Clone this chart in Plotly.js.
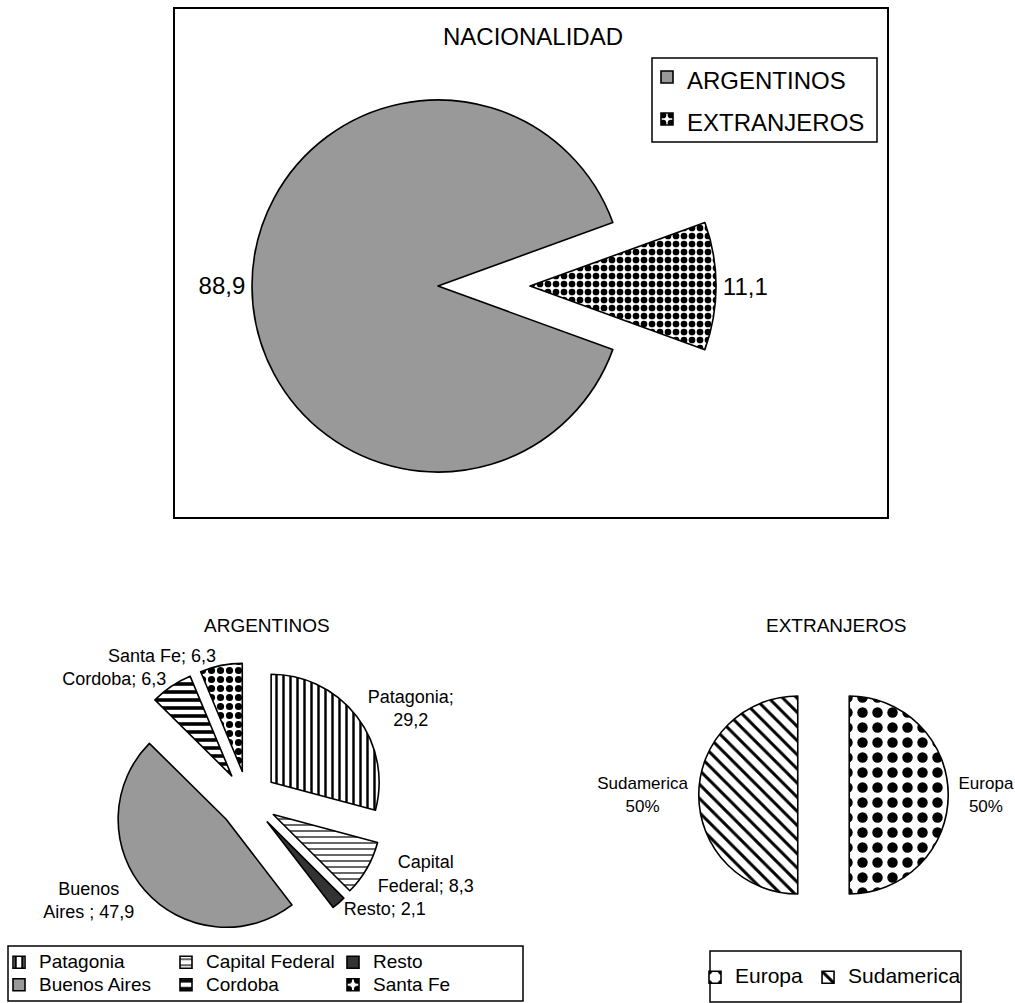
<!DOCTYPE html>
<html>
<head>
<meta charset="utf-8">
<script src="https://cdn.plot.ly/plotly-3.0.1.min.js"></script>
<style>html,body{margin:0;padding:0;background:#fff;}#chart{width:1015px;height:1003px;}</style>
</head>
<body>
<div id="chart"></div>
<script>
// ---------------- data ----------------
const chartTitles = ['NACIONALIDAD', 'ARGENTINOS', 'EXTRANJEROS'];

const natLabels = ['ARGENTINOS', 'EXTRANJEROS'];
const natValues = [88.9, 11.1];

const argLabels = ['Patagonia', 'Capital Federal', 'Resto', 'Buenos Aires', 'Cordoba', 'Santa Fe'];
const argValues = [29.2, 8.3, 2.1, 47.9, 6.3, 6.3];
const argTextPrefix = ['Patagonia;<br>', 'Capital<br>Federal; ', 'Resto; ', 'Buenos<br>Aires ; ', 'Cordoba; ', 'Santa Fe; '];

const extLabels = ['Europa', 'Sudamerica'];
const extValues = [50, 50];

// ---------------- helpers ----------------
const W = 1015, H = 1003;
const X = px => px / W;
const Y = py => 1 - py / H;
function pieDomain(cx, cy, r, pull) {
  const half = r * (1 + pull);
  return { x: [X(cx - half), X(cx + half)], y: [Y(cy + half), Y(cy - half)] };
}
function legendLabels(arr, size) {
  return arr.map(s => '<span style="font-size:' + size + 'px">' + s + '</span>');
}
const FONT = 'Liberation Sans, Arial, sans-serif';
const GRAY = '#999999';

// ---------------- traces ----------------
const natPull = 0.495;
const tNat = {
  type: 'pie',
  labels: legendLabels(natLabels, 24),
  values: natValues,
  sort: false,
  direction: 'clockwise',
  rotation: 110,
  pull: [0, natPull],
  domain: pieDomain(438, 286, 186, natPull),
  marker: {
    colors: [GRAY, '#ffffff'],
    line: { color: '#000', width: 1.6 },
    pattern: {
      shape: ['', '.'],
      size: [8, 8],
      solidity: [0.5, 0.55],
      fgcolor: '#000',
      bgcolor: '#fff',
      fillmode: 'replace'
    }
  },
  textposition: 'outside',
  texttemplate: '%{value:.1f}',
  outsidetextfont: { family: FONT, size: 24, color: '#000' },
  hoverinfo: 'skip',
  legend: 'legend'
};

const argPull = 0.27;
const tArg = {
  type: 'pie',
  labels: legendLabels(argLabels, 19),
  values: argValues,
  text: argTextPrefix,
  sort: false,
  direction: 'clockwise',
  rotation: 0,
  pull: argPull,
  domain: pieDomain(248, 800, 108, argPull),
  marker: {
    colors: ['#ffffff', '#ffffff', '#333333', GRAY, '#ffffff', '#ffffff'],
    line: { color: '#000', width: 1.6 },
    pattern: {
      shape: ['|', '-', '', '', '-', '.'],
      size: [7, 6, 8, 8, 8, 9],
      solidity: [0.35, 0.2, 0.3, 0.3, 0.45, 0.5],
      fgcolor: '#000',
      bgcolor: '#fff',
      fillmode: 'replace'
    }
  },
  textposition: 'outside',
  texttemplate: '%{text}%{value:.1f}',
  outsidetextfont: { family: FONT, size: 18, color: '#000' },
  hoverinfo: 'skip',
  legend: 'legend2'
};

const extPull = 0.26;
const tExt = {
  type: 'pie',
  labels: legendLabels(extLabels, 21),
  values: extValues,
  text: extLabels,
  sort: false,
  direction: 'clockwise',
  rotation: 0,
  pull: extPull,
  domain: pieDomain(823.5, 795, 99, extPull),
  marker: {
    colors: ['#ffffff', '#ffffff'],
    line: { color: '#000', width: 1.6 },
    pattern: {
      shape: ['.', '\\'],
      size: [15, 10],
      solidity: [0.38, 0.3],
      fgcolor: '#000',
      bgcolor: '#fff',
      fillmode: 'replace'
    }
  },
  textposition: 'outside',
  texttemplate: '%{text}<br>%{percent:.0%}',
  outsidetextfont: { family: FONT, size: 17, color: '#000' },
  hoverinfo: 'skip',
  legend: 'legend3'
};

// ---------------- layout ----------------
const boxLine = { color: '#000', width: 1.5 };
const layout = {
  width: W, height: H,
  margin: { l: 0, r: 0, t: 0, b: 0, autoexpand: false },
  paper_bgcolor: '#fff',
  plot_bgcolor: '#fff',
  separators: ',.',
  font: { family: FONT, color: '#000' },
  showlegend: true,
  legend: {
    orientation: 'v',
    x: X(647), xanchor: 'left',
    y: Y(51), yanchor: 'top',
    font: { family: FONT, size: 30, color: '#000' },
    bgcolor: 'rgba(0,0,0,0)',
    borderwidth: 0
  },
  legend2: {
    orientation: 'h',
    x: X(-1), xanchor: 'left',
    y: Y(946), yanchor: 'top',
    entrywidth: 122, entrywidthmode: 'pixels',
    font: { family: FONT, size: 15, color: '#000' },
    bgcolor: 'rgba(0,0,0,0)',
    borderwidth: 0
  },
  legend3: {
    orientation: 'h',
    x: X(695), xanchor: 'left',
    y: Y(961), yanchor: 'top',
    font: { family: FONT, size: 15, color: '#000' },
    bgcolor: 'rgba(0,0,0,0)',
    borderwidth: 0
  },
  shapes: [
    { type: 'rect', xref: 'paper', yref: 'paper', x0: X(174), x1: X(888), y0: Y(8), y1: Y(518), line: { color: '#000', width: 2 }, layer: 'below' },
    { type: 'rect', xref: 'paper', yref: 'paper', x0: X(652), x1: X(877), y0: Y(58), y1: Y(142), line: boxLine, layer: 'below' },
    { type: 'rect', xref: 'paper', yref: 'paper', x0: X(8), x1: X(523), y0: Y(946), y1: Y(1001), line: boxLine, layer: 'below' },
    { type: 'rect', xref: 'paper', yref: 'paper', x0: X(710), x1: X(961), y0: Y(951), y1: Y(1002), line: boxLine, layer: 'below' }
  ],
  annotations: [
    { text: chartTitles[0], xref: 'paper', yref: 'paper', x: X(533), y: Y(36), xanchor: 'center', yanchor: 'middle', showarrow: false, font: { family: FONT, size: 24, color: '#000' } },
    { text: chartTitles[1], xref: 'paper', yref: 'paper', x: X(267), y: Y(625), xanchor: 'center', yanchor: 'middle', showarrow: false, font: { family: FONT, size: 19, color: '#000' } },
    { text: chartTitles[2], xref: 'paper', yref: 'paper', x: X(836), y: Y(625), xanchor: 'center', yanchor: 'middle', showarrow: false, font: { family: FONT, size: 19, color: '#000' } }
  ]
};

Plotly.newPlot('chart', [tNat, tArg, tExt], layout, { displayModeBar: false, staticPlot: true });
</script>
</body>
</html>
